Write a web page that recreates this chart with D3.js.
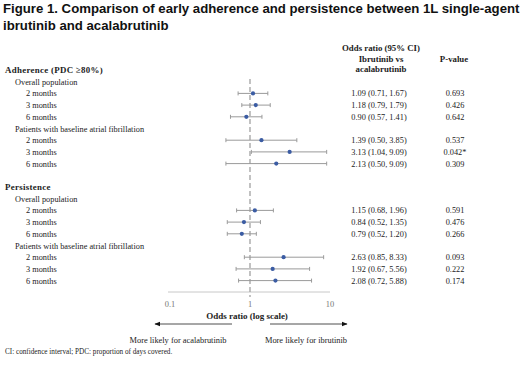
<!DOCTYPE html>
<html>
<head>
<meta charset="utf-8">
<script src="https://cdn.jsdelivr.net/npm/d3@7"></script>
<style>
  body { margin: 0; background: #fff; }
  svg { display: block; }
  .serif { font-family: 'Liberation Serif', 'Times New Roman', serif; fill: #222; }
</style>
</head>
<body>
<svg width="520" height="369"></svg>
<script>
var svg = d3.select('svg')

// rows of the forest plot (type: h = section header, g = group, r = data row)
var labels = [
  'Adherence (PDC \u226580%)', 'Overall population', '2 months', '3 months', '6 months',
  'Patients with baseline atrial fibrillation', '2 months', '3 months', '6 months', '',
  'Persistence', 'Overall population', '2 months', '3 months', '6 months',
  'Patients with baseline atrial fibrillation', '2 months', '3 months', '6 months'
]
var rowType = ['h', 'g', 'r', 'r', 'r', 'g', 'r', 'r', 'r', '',
  'h', 'g', 'r', 'r', 'r', 'g', 'r', 'r', 'r']

var estimate = [1.09, 1.18, 0.90, 1.39, 3.13, 2.13, 1.15, 0.84, 0.79, 2.63, 1.92, 2.08]
var lower = [0.71, 0.79, 0.57, 0.50, 1.04, 0.50, 0.68, 0.52, 0.52, 0.85, 0.67, 0.72]
var upper = [1.67, 1.79, 1.41, 3.85, 9.09, 9.09, 1.96, 1.35, 1.20, 8.33, 5.56, 5.88]
var pValues = ['0.693', '0.426', '0.642', '0.537', '0.042*', '0.309',
  '0.591', '0.476', '0.266', '0.093', '0.222', '0.174']
var ticks = [0.1, 1, 10]

// map data rows to their row index
var dataRows = []
rowType.forEach((t, i) => { if (t === 'r') dataRows.push(i) })
var data = estimate.map((e, k) => ({
  est: e, lo: lower[k], hi: upper[k], p: pValues[k], row: dataRows[k]
}))

var x = d3.scaleLog().domain([0.1, 10]).range([170, 330])
var y = d3.scaleLinear().domain([0, 18]).range([70, 280.6])

var fmt = d3.format('.2f')

// title
svg.append('text')
  .attr('x', 3).attr('y', 13)
  .style('font-family', "'Liberation Sans', Arial, sans-serif")
  .style('font-weight', 'bold').style('font-size', '13.2px').style('fill', '#111')
  .text('Figure 1. Comparison of early adherence and persistence between 1L single-agent')
svg.append('text')
  .attr('x', 3).attr('y', 30)
  .style('font-family', "'Liberation Sans', Arial, sans-serif")
  .style('font-weight', 'bold').style('font-size', '13.2px').style('fill', '#111')
  .text('ibrutinib and acalabrutinib')

// column headers
var hdr = svg.append('g').attr('class', 'serif')
  .style('font-weight', 'bold').style('font-size', '8.8px')
hdr.append('text').attr('x', 381).attr('y', 51).attr('text-anchor', 'middle').text('Odds ratio (95% CI)')
hdr.append('text').attr('x', 381).attr('y', 61.5).attr('text-anchor', 'middle').text('Ibrutinib vs')
hdr.append('text').attr('x', 381).attr('y', 72).attr('text-anchor', 'middle').text('acalabrutinib')
hdr.append('text').attr('x', 454).attr('y', 62).attr('text-anchor', 'middle').text('P-value')

// row labels
var indent = { h: 5, g: 15, r: 26 }
svg.append('g').attr('class', 'serif')
  .selectAll('text')
  .data(labels.map((l, i) => ({ l: l, t: rowType[i], i: i })).filter((d) => d.l))
  .enter()
  .append('text')
  .attr('x', (d) => indent[d.t])
  .attr('y', (d) => y(d.i) + 3)
  .style('font-size', (d) => d.t === 'h' ? '8.9px' : '8.3px')
  .style('font-weight', (d) => d.t === 'h' ? 'bold' : 'normal')
  .style('letter-spacing', (d) => d.t === 'h' ? '0.3px' : null)
  .text((d) => d.l)

// axis line
svg.append('line')
  .attr('x1', 168).attr('x2', 330)
  .attr('y1', 292).attr('y2', 292)
  .style('stroke', '#c8c8c8').style('stroke-width', 1)

// reference line at 1
svg.append('line')
  .attr('x1', x(1)).attr('x2', x(1))
  .attr('y1', 79).attr('y2', 297)
  .style('stroke', '#a8a8a8').style('stroke-width', 1.4)
  .style('stroke-dasharray', '5,3')

// tick labels
svg.append('g').attr('class', 'serif')
  .selectAll('text')
  .data(ticks)
  .enter()
  .append('text')
  .attr('x', (d) => x(d))
  .attr('y', 307)
  .attr('text-anchor', 'middle')
  .style('font-size', '8.4px').style('fill', '#777')
  .text((d) => d)

// whiskers
var ci = svg.append('g').selectAll('g')
  .data(data)
  .enter()
  .append('g')
  .style('stroke', '#9a9a9a').style('stroke-width', 1)

ci.append('line')
  .attr('x1', (d) => x(d.lo)).attr('x2', (d) => x(d.hi))
  .attr('y1', (d) => y(d.row)).attr('y2', (d) => y(d.row))
ci.append('line')
  .attr('x1', (d) => x(d.lo)).attr('x2', (d) => x(d.lo))
  .attr('y1', (d) => y(d.row) - 2).attr('y2', (d) => y(d.row) + 2)
ci.append('line')
  .attr('x1', (d) => x(d.hi)).attr('x2', (d) => x(d.hi))
  .attr('y1', (d) => y(d.row) - 2).attr('y2', (d) => y(d.row) + 2)

// points
svg.append('g').selectAll('circle')
  .data(data)
  .enter()
  .append('circle')
  .attr('cx', (d) => x(d.est))
  .attr('cy', (d) => y(d.row))
  .attr('r', 2.1)
  .style('fill', '#3b5ca3')

// odds ratio text and p-values
var tab = svg.append('g').attr('class', 'serif').style('font-size', '8.3px')
tab.selectAll('text.or')
  .data(data)
  .enter()
  .append('text')
  .attr('class', 'or')
  .attr('x', 379)
  .attr('y', (d) => y(d.row) + 3)
  .attr('text-anchor', 'middle')
  .text((d) => fmt(d.est) + ' (' + fmt(d.lo) + ', ' + fmt(d.hi) + ')')
tab.selectAll('text.p')
  .data(data)
  .enter()
  .append('text')
  .attr('class', 'p')
  .attr('x', 455)
  .attr('y', (d) => y(d.row) + 3)
  .attr('text-anchor', 'middle')
  .text((d) => d.p)

// axis title
svg.append('text').attr('class', 'serif')
  .attr('x', 247).attr('y', 319)
  .attr('text-anchor', 'middle')
  .style('font-size', '9px').style('font-weight', 'bold')
  .text('Odds ratio (log scale)')

// arrows
svg.append('defs').append('marker')
  .attr('id', 'arr')
  .attr('viewBox', '0 0 10 10')
  .attr('refX', 9).attr('refY', 5)
  .attr('markerWidth', 6).attr('markerHeight', 6)
  .attr('markerUnits', 'userSpaceOnUse')
  .attr('orient', 'auto')
  .append('path')
  .attr('d', 'M0,1 L10,5 L0,9 Z')
  .style('fill', '#111')

svg.append('line')
  .attr('x1', 232).attr('x2', 155).attr('y1', 324).attr('y2', 324)
  .style('stroke', '#222').style('stroke-width', 0.8)
  .attr('marker-end', 'url(#arr)')
svg.append('line')
  .attr('x1', 270).attr('x2', 347).attr('y1', 324).attr('y2', 324)
  .style('stroke', '#222').style('stroke-width', 0.8)
  .attr('marker-end', 'url(#arr)')

svg.append('text').attr('class', 'serif')
  .attr('x', 178).attr('y', 343)
  .attr('text-anchor', 'middle').style('font-size', '8.4px')
  .text('More likely for acalabrutinib')
svg.append('text').attr('class', 'serif')
  .attr('x', 306).attr('y', 343)
  .attr('text-anchor', 'middle').style('font-size', '8.4px')
  .text('More likely for ibrutinib')

// footnote
svg.append('text').attr('class', 'serif')
  .attr('x', 5).attr('y', 354)
  .style('font-size', '7.2px')
  .text('CI: confidence interval; PDC: proportion of days covered.')
</script>
</body>
</html>
